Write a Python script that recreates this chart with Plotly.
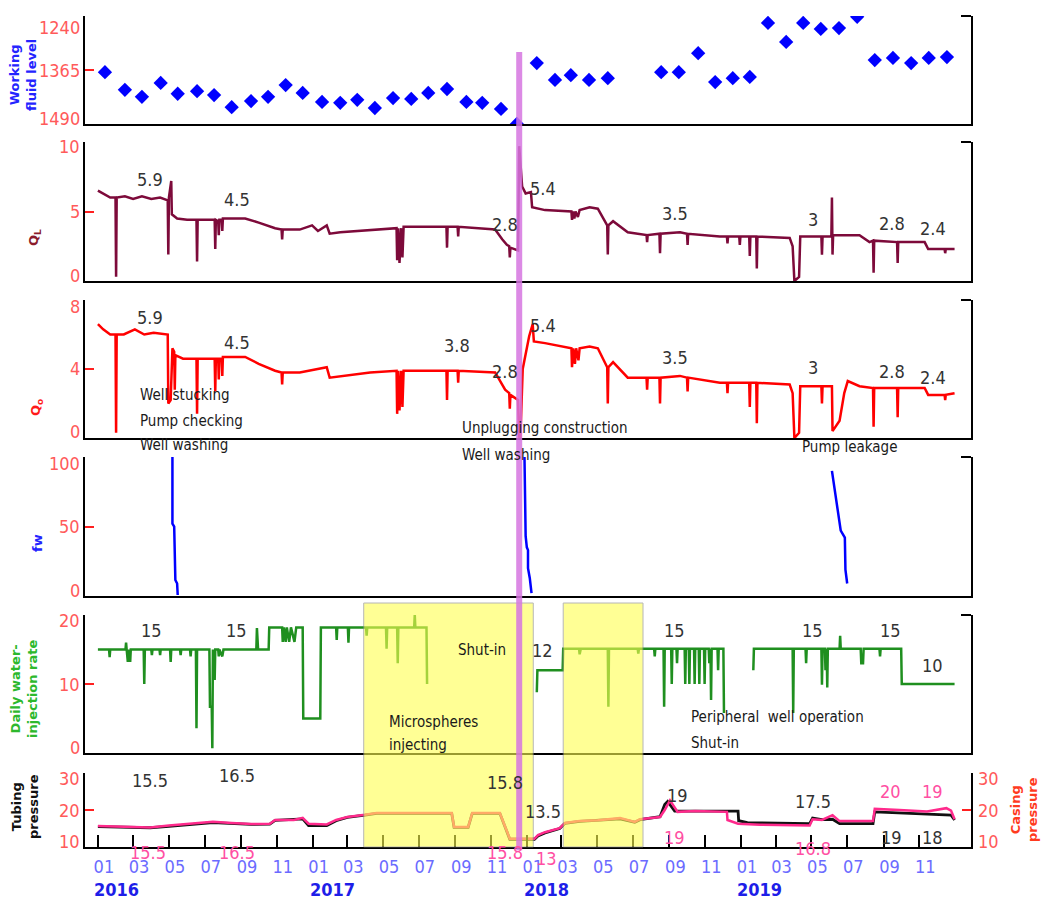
import plotly.graph_objects as go

# ---------------- data ----------------
wfl_dates = ["2016-01-13", "2016-02-16", "2016-03-16", "2016-04-17", "2016-05-16", "2016-06-18",
             "2016-07-17", "2016-08-16", "2016-09-18", "2016-10-17", "2016-11-16", "2016-12-15",
             "2017-01-17", "2017-02-17", "2017-03-18", "2017-04-17", "2017-05-18", "2017-06-18",
             "2017-07-17", "2017-08-18", "2017-09-20", "2017-10-17", "2017-11-18", "2017-12-15",
             "2018-01-18", "2018-02-18", "2018-03-17", "2018-04-17", "2018-05-19",
             "2018-08-18", "2018-09-17", "2018-10-20", "2018-11-18", "2018-12-18",
             "2019-01-16", "2019-02-16", "2019-03-19", "2019-04-17", "2019-05-17", "2019-06-17",
             "2019-07-18", "2019-08-17", "2019-09-17", "2019-10-18", "2019-11-17", "2019-12-18"]
wfl_values = [1370, 1411, 1427, 1395, 1420, 1414, 1423, 1451, 1437, 1427, 1400, 1418,
              1439, 1441, 1434, 1453, 1430, 1432, 1418, 1409, 1439, 1441, 1455, 1490,
              1349, 1388, 1377, 1388, 1384,
              1370, 1370, 1326, 1393, 1384,
              1381, 1256, 1300, 1256, 1270, 1268, 1242, 1342, 1337, 1349, 1337, 1335]

ql_points = [
    ("2016-01-01", 6.5), ("2016-01-10", 6.3), ("2016-01-22", 6.0), ("2016-01-31", 6.0), ("2016-02-01", 0.3),
    ("2016-02-02", 6.0), ("2016-02-16", 6.1), ("2016-03-01", 5.9), ("2016-03-16", 6.1), ("2016-04-01", 5.9),
    ("2016-04-16", 6.0), ("2016-04-29", 5.8), ("2016-04-30", 1.9), ("2016-05-01", 6.0), ("2016-05-05", 7.2),
    ("2016-05-06", 4.8), ("2016-05-15", 4.5), ("2016-06-01", 4.4), ("2016-06-17", 4.4), ("2016-06-18", 1.4),
    ("2016-06-19", 4.4), ("2016-07-18", 4.4), ("2016-07-19", 2.3), ("2016-07-20", 4.4), ("2016-07-24", 4.3),
    ("2016-07-25", 3.3), ("2016-07-26", 4.4), ("2016-07-30", 4.4), ("2016-07-31", 3.6), ("2016-08-01", 4.5),
    ("2016-09-08", 4.5), ("2016-10-01", 4.2), ("2016-10-29", 3.8), ("2016-11-09", 3.7), ("2016-11-10", 3.0),
    ("2016-11-11", 3.7), ("2016-12-10", 3.7), ("2016-12-31", 4.0), ("2017-01-10", 3.6), ("2017-01-25", 4.0),
    ("2017-01-30", 3.4), ("2017-02-17", 3.5), ("2017-03-20", 3.6), ("2017-04-20", 3.7), ("2017-05-24", 3.8),
    ("2017-05-25", 1.5), ("2017-05-27", 3.8), ("2017-05-29", 1.3), ("2017-06-01", 3.8), ("2017-06-03", 1.7),
    ("2017-06-05", 3.9), ("2017-07-15", 3.9), ("2017-08-17", 3.9), ("2017-08-18", 2.4), ("2017-08-19", 3.9),
    ("2017-09-05", 3.9), ("2017-09-06", 3.2), ("2017-09-07", 3.9), ("2017-10-15", 3.8), ("2017-11-08", 3.7),
    ("2017-11-20", 3.0), ("2017-11-28", 2.6), ("2017-12-02", 2.5), ("2017-12-03", 1.7), ("2017-12-04", 2.4),
    ("2017-12-17", 2.2), ("2017-12-19", 9.7), ("2017-12-24", 6.8), ("2017-12-30", 6.3), ("2018-01-08", 6.4),
    ("2018-01-10", 5.3), ("2018-02-01", 5.1), ("2018-03-18", 5.0), ("2018-03-19", 4.4), ("2018-03-21", 5.0),
    ("2018-03-23", 4.5), ("2018-03-25", 5.0), ("2018-03-29", 4.6), ("2018-04-01", 5.1), ("2018-04-18", 5.3),
    ("2018-05-02", 5.2), ("2018-05-15", 4.2), ("2018-05-18", 4.0), ("2018-05-19", 1.9), ("2018-05-20", 4.0),
    ("2018-05-28", 4.3), ("2018-06-22", 3.5), ("2018-07-24", 3.3), ("2018-07-25", 2.8), ("2018-07-26", 3.3),
    ("2018-08-15", 3.4), ("2018-08-16", 2.0), ("2018-08-17", 3.4), ("2018-09-19", 3.5), ("2018-10-01", 3.4),
    ("2018-10-02", 2.6), ("2018-10-03", 3.4), ("2018-11-26", 3.2), ("2018-12-08", 3.2), ("2018-12-09", 2.7),
    ("2018-12-10", 3.2), ("2018-12-29", 3.2), ("2018-12-30", 2.6), ("2018-12-31", 3.2), ("2019-01-15", 3.2),
    ("2019-01-16", 1.8), ("2019-01-17", 3.2), ("2019-01-27", 3.2), ("2019-01-28", 0.9), ("2019-01-29", 3.2),
    ("2019-03-25", 3.1), ("2019-03-30", 2.5), ("2019-04-02", 0.0), ("2019-04-10", 0.3), ("2019-04-12", 3.2),
    ("2019-05-18", 3.2), ("2019-05-19", 1.9), ("2019-05-20", 3.2), ("2019-06-04", 3.2), ("2019-06-05", 6.0),
    ("2019-06-06", 1.9), ("2019-06-07", 3.3), ("2019-07-22", 3.3), ("2019-08-08", 2.8), ("2019-08-14", 2.9),
    ("2019-08-15", 0.6), ("2019-08-16", 2.9), ("2019-09-24", 2.8), ("2019-09-25", 1.3), ("2019-09-26", 2.8),
    ("2019-11-10", 2.8), ("2019-11-16", 2.3), ("2019-12-14", 2.3), ("2019-12-15", 2.0), ("2019-12-16", 2.3),
    ("2019-12-31", 2.3)]

qo_points = [
    ("2016-01-01", 6.6), ("2016-01-10", 6.3), ("2016-01-22", 6.0), ("2016-01-31", 6.0), ("2016-02-01", 0.3),
    ("2016-02-02", 6.0), ("2016-02-14", 6.0), ("2016-03-04", 6.3), ("2016-03-20", 6.0), ("2016-04-05", 6.1),
    ("2016-04-29", 6.0), ("2016-04-30", 2.0), ("2016-05-04", 2.2), ("2016-05-07", 5.2), ("2016-05-10", 5.0),
    ("2016-05-11", 2.8), ("2016-05-12", 4.8), ("2016-05-25", 4.6), ("2016-06-17", 4.6), ("2016-06-18", 1.4),
    ("2016-06-19", 4.6), ("2016-07-18", 4.6), ("2016-07-19", 2.7), ("2016-07-20", 4.6), ("2016-07-24", 4.6),
    ("2016-07-25", 3.4), ("2016-07-26", 4.6), ("2016-07-30", 4.6), ("2016-07-31", 3.6), ("2016-08-01", 4.7),
    ("2016-09-08", 4.7), ("2016-10-01", 4.3), ("2016-10-29", 3.9), ("2016-11-09", 3.8), ("2016-11-10", 3.1),
    ("2016-11-11", 3.8), ("2016-12-10", 3.8), ("2017-01-25", 4.1), ("2017-01-30", 3.5), ("2017-02-25", 3.6),
    ("2017-04-09", 3.8), ("2017-05-24", 3.9), ("2017-05-25", 1.4), ("2017-05-27", 3.9), ("2017-05-29", 1.6),
    ("2017-06-01", 3.9), ("2017-06-03", 1.8), ("2017-06-05", 3.9), ("2017-08-17", 3.9), ("2017-08-18", 2.2),
    ("2017-08-19", 3.9), ("2017-09-05", 3.9), ("2017-09-06", 3.2), ("2017-09-07", 3.9), ("2017-11-08", 3.8),
    ("2017-11-25", 2.8), ("2017-12-02", 2.6), ("2017-12-03", 1.7), ("2017-12-04", 2.5), ("2017-12-17", 2.2),
    ("2017-12-19", 0.0), ("2017-12-21", 0.0), ("2017-12-25", 4.0), ("2018-01-05", 5.9), ("2018-01-11", 6.6),
    ("2018-01-13", 5.6), ("2018-02-01", 5.5), ("2018-03-18", 5.2), ("2018-03-19", 4.1), ("2018-03-21", 5.2),
    ("2018-03-24", 4.3), ("2018-03-26", 5.2), ("2018-03-30", 4.5), ("2018-04-01", 5.2), ("2018-04-18", 5.3),
    ("2018-05-02", 5.2), ("2018-05-15", 4.3), ("2018-05-18", 4.1), ("2018-05-19", 2.0), ("2018-05-20", 4.1),
    ("2018-05-28", 4.4), ("2018-06-22", 3.5), ("2018-07-24", 3.5), ("2018-07-25", 2.8), ("2018-07-26", 3.5),
    ("2018-08-15", 3.5), ("2018-08-16", 2.0), ("2018-08-17", 3.5), ("2018-09-19", 3.6), ("2018-10-01", 3.5),
    ("2018-10-02", 2.7), ("2018-10-03", 3.5), ("2018-11-26", 3.2), ("2018-12-08", 3.2), ("2018-12-09", 2.6),
    ("2018-12-10", 3.2), ("2019-01-15", 3.2), ("2019-01-16", 1.8), ("2019-01-17", 3.2), ("2019-01-27", 3.2),
    ("2019-01-28", 0.85), ("2019-01-29", 3.2), ("2019-03-25", 3.1), ("2019-03-30", 2.6), ("2019-04-02", 0.0),
    ("2019-04-10", 0.3), ("2019-04-12", 3.0), ("2019-05-18", 3.0), ("2019-05-19", 2.0), ("2019-05-20", 3.0),
    ("2019-06-05", 3.0), ("2019-06-06", 0.4), ("2019-06-18", 1.0), ("2019-06-26", 2.6), ("2019-07-02", 3.3),
    ("2019-07-22", 3.0), ("2019-08-14", 2.9), ("2019-08-15", 0.65), ("2019-08-16", 2.9), ("2019-09-24", 2.9),
    ("2019-09-25", 1.2), ("2019-09-26", 2.9), ("2019-11-10", 2.9), ("2019-11-16", 2.5), ("2019-12-14", 2.5),
    ("2019-12-15", 2.2), ("2019-12-16", 2.5), ("2019-12-31", 2.6)]

fw_points = [
    ("2016-05-07", 100), ("2016-05-07", 52), ("2016-05-10", 50), ("2016-05-11", 38), ("2016-05-12", 11.5),
    ("2016-05-15", 9), ("2016-05-16", 0.7),
    (None, None),
    ("2017-12-28", 100), ("2017-12-29", 75), ("2017-12-30", 43), ("2018-01-01", 35), ("2018-01-03", 33),
    ("2018-01-03", 20), ("2018-01-06", 13), ("2018-01-09", 2),
    (None, None),
    ("2019-06-05", 90), ("2019-06-08", 81), ("2019-06-10", 75), ("2019-06-15", 62), ("2019-06-20", 47),
    ("2019-06-27", 42), ("2019-06-28", 19), ("2019-07-01", 9)]

inj_points = [
    ("2016-01-01", 15), ("2016-01-20", 15), ("2016-01-21", 13.9), ("2016-01-22", 15), ("2016-02-17", 15),
    ("2016-02-18", 16), ("2016-02-19", 15), ("2016-02-21", 13.2), ("2016-02-22", 15), ("2016-02-25", 13.2),
    ("2016-02-26", 15), ("2016-03-19", 15), ("2016-03-20", 10), ("2016-03-21", 15), ("2016-04-01", 15),
    ("2016-04-02", 14.2), ("2016-04-03", 15), ("2016-04-15", 15), ("2016-04-16", 14.2), ("2016-04-17", 15),
    ("2016-05-03", 15), ("2016-05-04", 13.2), ("2016-05-05", 15), ("2016-05-20", 15), ("2016-05-21", 14.2),
    ("2016-05-22", 15), ("2016-06-06", 15), ("2016-06-07", 14), ("2016-06-08", 15), ("2016-06-16", 15),
    ("2016-06-17", 3.6), ("2016-06-18", 15), ("2016-07-09", 15), ("2016-07-10", 6.7), ("2016-07-13", 6.7),
    ("2016-07-14", 0.7), ("2016-07-15", 15), ("2016-07-18", 10.6), ("2016-07-19", 15), ("2016-07-24", 15),
    ("2016-07-25", 14), ("2016-07-26", 15), ("2016-07-31", 14), ("2016-08-02", 15), ("2016-09-27", 15),
    ("2016-09-28", 18.1), ("2016-09-30", 15), ("2016-10-18", 15), ("2016-10-19", 18.2), ("2016-11-10", 18.2),
    ("2016-11-11", 16.1), ("2016-11-13", 18.2), ("2016-11-16", 16.1), ("2016-11-18", 18.2), ("2016-11-22", 16.1),
    ("2016-11-25", 18.2), ("2016-12-01", 16.1), ("2016-12-04", 18.2), ("2016-12-15", 18.2), ("2016-12-16", 5.0),
    ("2017-01-14", 5.0), ("2017-01-15", 18.2), ("2017-02-10", 18.2), ("2017-02-11", 16.4), ("2017-02-12", 18.2),
    ("2017-03-02", 18.2), ("2017-03-03", 16.0), ("2017-03-04", 18.2), ("2017-04-02", 18.2), ("2017-04-03", 17.0),
    ("2017-04-04", 18.2), ("2017-05-06", 18.2), ("2017-05-07", 15.1), ("2017-05-08", 18.2), ("2017-05-25", 18.2),
    ("2017-05-26", 13.0), ("2017-05-27", 18.2), ("2017-06-23", 18.2), ("2017-06-24", 20.0), ("2017-06-25", 18.2),
    ("2017-07-14", 18.2), ("2017-07-15", 10.0),
    (None, None),
    ("2018-01-18", 8.8), ("2018-01-19", 12.0), ("2018-03-03", 12.0), ("2018-03-04", 15.1), ("2018-03-31", 15.1),
    ("2018-04-01", 14.3), ("2018-04-03", 15.1), ("2018-05-19", 15.1), ("2018-05-20", 6.7), ("2018-05-21", 15.1),
    ("2018-07-09", 15.1), ("2018-07-10", 14.4), ("2018-07-11", 15.1), ("2018-08-06", 15.1), ("2018-08-07", 14.0),
    ("2018-08-08", 15.1), ("2018-08-22", 15.1), ("2018-08-23", 6.7), ("2018-08-24", 15.1), ("2018-09-04", 15.1),
    ("2018-09-05", 10.0), ("2018-09-06", 15.1), ("2018-09-13", 15.1), ("2018-09-14", 13.0), ("2018-09-15", 15.1),
    ("2018-09-27", 15.1), ("2018-09-28", 10.0), ("2018-09-29", 15.1), ("2018-10-04", 15.1), ("2018-10-05", 10.0),
    ("2018-10-06", 15.1), ("2018-10-13", 15.1), ("2018-10-14", 10.0), ("2018-10-15", 15.1), ("2018-10-21", 15.1),
    ("2018-10-22", 10.0), ("2018-10-23", 15.1), ("2018-10-30", 15.1), ("2018-10-31", 10.0), ("2018-11-01", 15.1),
    ("2018-11-07", 15.1), ("2018-11-08", 13.0), ("2018-11-10", 15.1), ("2018-11-11", 7.7), ("2018-11-12", 15.1),
    ("2018-11-22", 15.1), ("2018-11-23", 12.0), ("2018-11-24", 15.1), ("2018-12-02", 15.1), ("2018-12-03", 5.8),
    (None, None),
    ("2019-01-22", 12.0), ("2019-01-23", 15.1), ("2019-03-30", 15.1), ("2019-03-31", 5.8), ("2019-04-01", 15.1),
    ("2019-04-21", 15.1), ("2019-04-22", 13.0), ("2019-04-23", 15.1), ("2019-05-18", 15.1), ("2019-05-19", 9.9),
    ("2019-05-20", 15.1), ("2019-05-24", 15.1), ("2019-05-25", 12.0), ("2019-05-26", 15.1), ("2019-05-27", 15.1),
    ("2019-05-28", 9.5), ("2019-05-29", 15.1), ("2019-06-18", 15.1), ("2019-06-19", 17.0), ("2019-06-20", 15.1),
    ("2019-07-24", 15.1), ("2019-07-25", 13.0), ("2019-07-28", 13.0), ("2019-07-29", 15.1), ("2019-08-25", 15.1),
    ("2019-08-26", 14.0), ("2019-08-27", 15.1), ("2019-10-01", 15.1), ("2019-10-02", 10.0), ("2019-12-31", 10.0)]

tubing_points = [
    ("2016-01-01", 15.5), ("2016-03-30", 15.2), ("2016-05-01", 15.6), ("2016-06-18", 16.3), ("2016-07-15", 16.6),
    ("2016-09-18", 16.1), ("2016-10-20", 16.2), ("2016-10-29", 17.2), ("2016-12-15", 17.6), ("2016-12-25", 15.8),
    ("2017-01-25", 15.8), ("2017-02-10", 17.1), ("2017-03-01", 18.0), ("2017-03-31", 18.6), ("2017-04-20", 19.1),
    ("2017-08-26", 19.1), ("2017-08-30", 15.3), ("2017-09-23", 15.3), ("2017-09-30", 19.1), ("2017-11-16", 19.1),
    ("2017-12-03", 12.1), ("2018-01-14", 12.1), ("2018-01-20", 13.0), ("2018-02-01", 13.8), ("2018-02-26", 15.0),
    ("2018-03-07", 16.4), ("2018-04-01", 16.9), ("2018-06-09", 17.6), ("2018-07-04", 16.7), ("2018-07-13", 17.4),
    ("2018-08-16", 18.2), ("2018-08-24", 21.5), ("2018-08-29", 22.3), ("2018-09-10", 19.7), ("2018-12-27", 19.7),
    ("2018-12-28", 17.1), ("2019-01-12", 16.6), ("2019-04-28", 16.3), ("2019-05-03", 17.8), ("2019-05-19", 17.4),
    ("2019-06-06", 17.5), ("2019-06-18", 16.3), ("2019-08-14", 16.3), ("2019-08-17", 19.5), ("2019-12-25", 18.6),
    ("2019-12-31", 17.3)]

casing_points = [
    ("2016-01-01", 15.7), ("2016-02-15", 15.5), ("2016-03-30", 15.3), ("2016-05-01", 15.8), ("2016-06-18", 16.5),
    ("2016-07-15", 16.8), ("2016-08-16", 16.5), ("2016-09-18", 16.2), ("2016-10-20", 16.3), ("2016-10-29", 17.3),
    ("2016-11-30", 17.3), ("2016-12-15", 17.9), ("2016-12-25", 16.3), ("2017-01-25", 16.1), ("2017-02-10", 17.3),
    ("2017-03-01", 18.1), ("2017-03-31", 18.7), ("2017-04-20", 19.2), ("2017-08-26", 19.2), ("2017-08-30", 15.4),
    ("2017-09-23", 15.4), ("2017-09-30", 19.2), ("2017-11-16", 19.2), ("2017-12-03", 12.2), ("2018-01-14", 12.2),
    ("2018-01-20", 13.2), ("2018-02-01", 14.0), ("2018-02-26", 15.1), ("2018-03-07", 16.5), ("2018-04-01", 17.0),
    ("2018-05-02", 17.2), ("2018-06-09", 17.8), ("2018-07-04", 16.8), ("2018-07-13", 17.5), ("2018-08-16", 18.1),
    ("2018-08-24", 20.0), ("2018-09-02", 22.6), ("2018-09-15", 19.5), ("2018-10-15", 19.7), ("2018-12-08", 19.5),
    ("2018-12-09", 17.3), ("2018-12-27", 16.3), ("2019-02-02", 16.0), ("2019-04-28", 15.8), ("2019-05-03", 17.5),
    ("2019-05-19", 17.3), ("2019-06-06", 18.6), ("2019-06-18", 17.0), ("2019-08-14", 17.0), ("2019-08-17", 20.3),
    ("2019-09-28", 20.0), ("2019-11-14", 19.6), ("2019-12-17", 20.5), ("2019-12-25", 19.8), ("2019-12-31", 17.5)]

ql_labels = [("2016-03-30", 7.27, "5.9"), ("2016-08-25", 5.83, "4.5"), ("2017-11-25", 4.03, "2.8"),
             ("2018-01-28", 6.69, "5.4"), ("2018-09-10", 4.89, "3.5"), ("2019-05-03", 4.39, "3"),
             ("2019-09-15", 4.17, "2.8"), ("2019-11-24", 3.81, "2.4")]
qo_labels = [("2016-03-30", 7.01, "5.9"), ("2016-08-25", 5.51, "4.5"), ("2017-09-04", 5.39, "3.8"),
             ("2017-11-25", 3.83, "2.8"), ("2018-01-28", 6.55, "5.4"), ("2018-09-10", 4.64, "3.5"),
             ("2019-05-03", 4.06, "3"), ("2019-09-15", 3.83, "2.8"), ("2019-11-24", 3.48, "2.4")]
inj_labels = [("2016-04-02", 17.7, "15"), ("2016-08-25", 17.7, "15"), ("2018-01-28", 14.9, "12"),
              ("2018-09-10", 17.7, "15"), ("2019-05-03", 17.7, "15"), ("2019-09-13", 17.7, "15"),
              ("2019-11-24", 12.75, "10")]
tubing_labels = [("2016-03-30", 28.1, "15.5"), ("2016-08-25", 29.2, "16.5"), ("2017-11-25", 27.3, "15.8"),
                 ("2018-01-28", 19.5, "13.5"), ("2018-09-14", 24.05, "19"), ("2019-05-03", 22.2, "17.5"),
                 ("2019-09-15", 12.7, "19"), ("2019-11-24", 12.7, "18")]
casing_labels = [("2016-03-27", 8.6, "15.5"), ("2016-08-25", 8.6, "16.5"), ("2017-11-25", 8.4, "15.8"),
                 ("2018-02-04", 6.9, "13"), ("2018-09-10", 12.7, "19"), ("2019-05-03", 9.7, "16.8"),
                 ("2019-09-13", 24.9, "20"), ("2019-11-24", 24.9, "19")]

event_texts = [("2016-03-10", 0.5433, "Well stucking"), ("2016-03-10", 0.5120, "Pump checking"),
               ("2016-03-10", 0.4832, "Well washing"), ("2017-09-09", 0.5036, "Unplugging construction"),
               ("2017-09-09", 0.4712, "Well washing"), ("2019-04-11", 0.4808, "Pump leakage"),
               ("2018-10-04", 0.1563, "Peripheral  well operation"), ("2018-10-04", 0.1250, "Shut-in"),
               ("2017-05-08", 0.1502, "Microspheres"), ("2017-05-08", 0.1226, "injecting")]

tick_dates = ["2016-01-01", "2016-03-01", "2016-05-01", "2016-07-01", "2016-09-01", "2016-11-01",
              "2017-01-01", "2017-03-01", "2017-05-01", "2017-07-01", "2017-09-01", "2017-11-01",
              "2018-01-01", "2018-03-01", "2018-05-01", "2018-07-01", "2018-09-01", "2018-11-01",
              "2019-01-01", "2019-03-01", "2019-05-01", "2019-07-01", "2019-09-01", "2019-11-01"]
tick_text = ["01", "03", "05", "07", "09", "11"] * 4
year_labels = [("2016-02-01", "2016"), ("2017-02-04", "2017"), ("2018-02-03", "2018"), ("2019-02-01", "2019")]

workover_date = "2017-12-19"
yellow_spans = [("2017-03-29", "2018-01-12"), ("2018-03-04", "2018-07-18")]

# ---------------- figure ----------------
FN = "Liberation Sans Narrow, Arial Narrow, DejaVu Sans Condensed, sans-serif"
FB = "DejaVu Sans, Verdana, sans-serif"


def unzip(pts):
    return [p[0] for p in pts], [p[1] for p in pts]


fig = go.Figure()
fig.add_trace(go.Scatter(x=wfl_dates, y=wfl_values, mode="markers", xaxis="x", yaxis="y",
                         marker=dict(symbol="diamond", size=11, color="#0000ff")))
x, y = unzip(ql_points)
fig.add_trace(go.Scatter(x=x, y=y, mode="lines", xaxis="x2", yaxis="y2", line=dict(color="#7d0a3a", width=2.5)))
x, y = unzip(qo_points)
fig.add_trace(go.Scatter(x=x, y=y, mode="lines", xaxis="x3", yaxis="y3", line=dict(color="#ff0000", width=2.5)))
x, y = unzip(fw_points)
fig.add_trace(go.Scatter(x=x, y=y, mode="lines", xaxis="x4", yaxis="y4", line=dict(color="#0000ff", width=2.5)))
x, y = unzip(inj_points)
fig.add_trace(go.Scatter(x=x, y=y, mode="lines", xaxis="x5", yaxis="y5", line=dict(color="#1f8f1f", width=2.5)))
x, y = unzip(tubing_points)
fig.add_trace(go.Scatter(x=x, y=y, mode="lines", xaxis="x6", yaxis="y6", line=dict(color="#111111", width=2.8)))
x, y = unzip(casing_points)
fig.add_trace(go.Scatter(x=x, y=y, mode="lines", xaxis="x6", yaxis="y7", line=dict(color="#ff2a8c", width=2.5)))

FIG_W, FIG_H = 1046, 902
LEFT, RIGHT_EDGE, TOP, BOTTOM_PX = 85, 971, 15, 847   # plot area in window pixels
PW = RIGHT_EDGE - LEFT
PH = BOTTOM_PX - TOP


def py(pix):
    return (BOTTOM_PX - pix) / PH


def px(pix):
    return (pix - LEFT) / PW


panels = {
    1: dict(dom=[py(124), py(16)], rng=[1490, 1240], tv=[1240, 1365, 1490], top_shift=-11),
    2: dict(dom=[py(281), py(142)], rng=[0, 10], tv=[0, 5, 10], top_shift=-5),
    3: dict(dom=[py(438), py(300)], rng=[0, 8], tv=[0, 4, 8], top_shift=-7),
    4: dict(dom=[py(596), py(457)], rng=[0, 100], tv=[0, 50, 100], top_shift=-6),
    5: dict(dom=[py(753), py(615)], rng=[0, 20], tv=[0, 10, 20], top_shift=-5),
    6: dict(dom=[0, py(773)], rng=[10, 30], tv=[10, 20, 30], top_shift=-5),
}

xr = ["2015-12-10", "2020-01-28"]
layout = dict(width=FIG_W, height=FIG_H,
              margin=dict(l=LEFT, r=FIG_W - RIGHT_EDGE, t=TOP, b=FIG_H - BOTTOM_PX, autoexpand=False),
              plot_bgcolor="white", paper_bgcolor="white", showlegend=False)
tickred = "#ff2020"
labred = "#ff5a5a"
for i, p in panels.items():
    sfx = "" if i == 1 else str(i)
    xa = dict(type="date", range=xr, domain=[0, 1], anchor="y" + sfx, showgrid=False, zeroline=False,
              showline=True, linecolor="black", linewidth=2, ticks="", showticklabels=False, automargin=False)
    if i > 1:
        xa["matches"] = "x"
    if i == 6:
        xa.update(ticks="inside", ticklen=12, tickwidth=2, tickcolor="black", tickvals=tick_dates,
                  ticktext=tick_text, showticklabels=True, ticklabelshift=6, ticklabelstandoff=2,
                  tickfont=dict(family=FN, size=18, color="#6b6bff"))
    layout["xaxis" + sfx] = xa
    layout["yaxis" + sfx] = dict(domain=p["dom"], range=p["rng"], anchor="x" + sfx, tickvals=p["tv"],
                                 ticks="inside", ticklen=9, tickwidth=2, tickcolor=tickred,
                                 showline=True, linecolor="black", linewidth=2, mirror=(i != 6),
                                 showgrid=False, zeroline=False, automargin=False, showticklabels=False)
layout["yaxis7"] = dict(overlaying="y6", side="right", anchor="x6", range=[10, 30], tickvals=[10, 20, 30],
                        ticks="inside", ticklen=9, tickwidth=2, tickcolor=tickred, showline=True,
                        linecolor="black", linewidth=2, showgrid=False, zeroline=False, automargin=False,
                        showticklabels=False)
fig.update_layout(**layout)

shapes = []
for i in range(1, 6):
    top = panels[i]["dom"][1]
    shapes.append(dict(type="line", xref="paper", yref="paper", x0=1 - 10 / PW, x1=1, y0=top, y1=top,
                       line=dict(color="black", width=2)))
for a, b in yellow_spans:
    shapes.append(dict(type="rect", xref="x", yref="paper", x0=a, x1=b, y0=0, y1=py(603),
                       fillcolor="rgb(255,255,80)", opacity=0.6, line=dict(color="#888888", width=1),
                       layer="above"))
shapes.append(dict(type="line", xref="x", yref="paper", x0=workover_date, x1=workover_date,
                   y0=-0.004, y1=py(52), line=dict(color="rgba(214,118,224,0.85)", width=6), layer="above"))
fig.update_layout(shapes=shapes)

ann = []


def add(**kw):
    kw.setdefault("showarrow", False)
    kw.setdefault("yanchor", "middle")
    ann.append(kw)


def p6(v):
    # pressure value -> paper y (works beyond the 10-30 axis range too)
    lo, hi = panels[6]["rng"]
    d0, d1 = panels[6]["dom"]
    return d0 + (v - lo) / (hi - lo) * (d1 - d0)


# y tick labels (kept inside each panel like the reference)
tickfont = dict(family=FN, size=18, color=labred)
for i, p in panels.items():
    sfx = "" if i == 1 else str(i)
    tv = p["tv"]
    top_val = tv[0] if i == 1 else tv[-1]
    bot_val = tv[-1] if i == 1 else tv[0]
    for v in tv:
        shift = p["top_shift"] if v == top_val else (6 if v == bot_val else 0)
        add(x=0, xref="paper", y=v, yref="y" + sfx, text=str(v), xanchor="right", xshift=-3, yshift=shift,
            font=tickfont)
        if i == 6:
            add(x=1, xref="paper", y=v, yref="y7", text=str(v), xanchor="left", xshift=5, yshift=shift,
                font=tickfont)

numfont = dict(family=FN, size=18, color="#333333")
for d, v, t in ql_labels:
    add(x=d, y=v, xref="x2", yref="y2", text=t, font=numfont)
for d, v, t in qo_labels:
    add(x=d, y=v, xref="x3", yref="y3", text=t, font=numfont)
for d, v, t in inj_labels:
    add(x=d, y=v, xref="x5", yref="y5", text=t, font=numfont)
for d, v, t in tubing_labels:
    add(x=d, y=p6(v), xref="x", yref="paper", text=t, font=numfont)
for d, v, t in casing_labels:
    add(x=d, y=p6(v), xref="x", yref="paper", text=t, font=dict(family=FN, size=18, color="#ff4fa3"))
for d, yp, t in event_texts:
    add(x=d, y=yp, xref="x", yref="paper", text=t, xanchor="left", font=dict(family=FN, size=15, color="#1a1a1a"))
add(x="2017-10-17", y=py(650), xref="x", yref="paper", text="Shut-in", font=dict(family=FN, size=15, color="#1a1a1a"))
for d, t in year_labels:
    add(x=d, y=py(889), xref="x", yref="paper", text="<b>" + t + "</b>",
        font=dict(family=FN, size=18, color="#1e1ee8"))

titles = [("<b>Working<br>fluid level</b>", 23, 75, "#2424ff"),
          ("<b>Q<sub>L</sub></b>", 34, 238, "#8b1c2c"),
          ("<b>Q<sub>o</sub></b>", 36, 408, "#ff1a1a"),
          ("<b>fw</b>", 37, 543, "#2424ff"),
          ("<b>Daily water-<br>injection rate</b>", 24, 689, "#2db82d"),
          ("<b>Tubing<br>pressure</b>", 25, 806, "#111111"),
          ("<b>Casing<br>pressure</b>", 1024, 810, "#ff3b1f")]
for t, xx, yy, c in titles:
    add(x=px(xx), y=py(yy), xref="paper", yref="paper", text=t, textangle=-90, xanchor="center",
        font=dict(family=FB, size=13, color=c))
fig.update_layout(annotations=ann)

fig.write_html("out.html", config={"displayModeBar": False, "staticPlot": True},
               post_script="document.body.style.margin='0px';")
